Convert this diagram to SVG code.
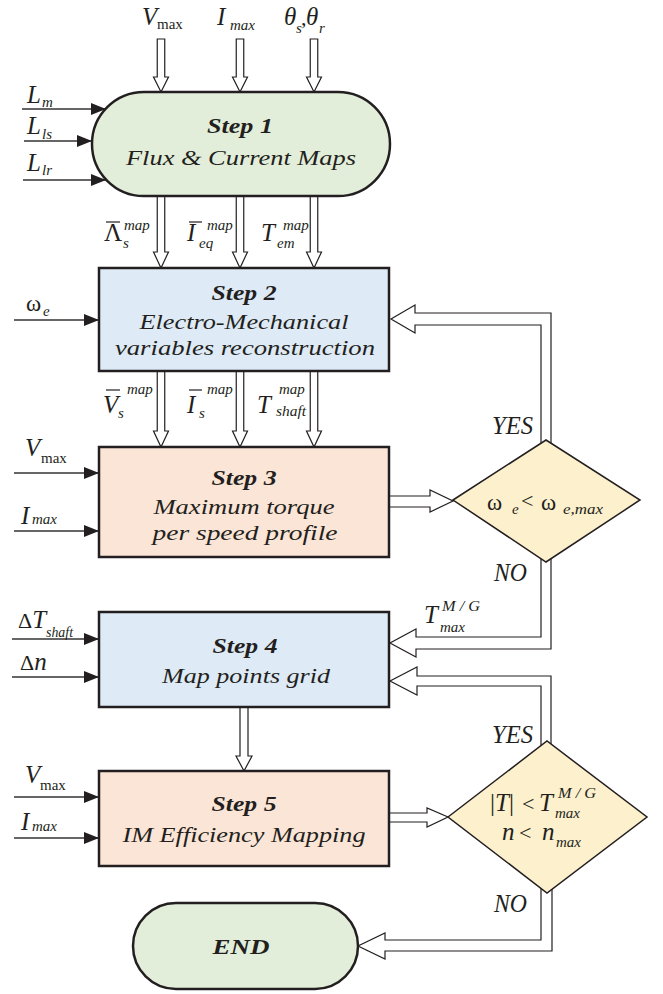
<svg xmlns="http://www.w3.org/2000/svg" width="663" height="994" viewBox="0 0 663 994">
<style>
text{font-family:'Liberation Serif','Times New Roman',serif;fill:#231f20}
.it{font-style:italic}
.bi{font-style:italic;font-weight:bold;font-size:21px}
.t{font-style:italic;font-size:22px}
.big{font-style:italic;font-size:25px}
.sub{font-style:italic;font-size:15px}
.up{font-size:15px}
.node{stroke:#231f20;stroke-width:2.5}
.dia{fill:#fcf0cd;stroke:#231f20;stroke-width:1.5}
.hol{fill:#ffffff;stroke:#231f20;stroke-width:1.2;stroke-linejoin:miter}
.inp{stroke:#333333;stroke-width:1.4;fill:none}
.bar{stroke:#231f20;stroke-width:1.2}
</style>
<defs>
<marker id="ah" markerUnits="userSpaceOnUse" markerWidth="15" markerHeight="12" refX="15" refY="6" orient="auto"><path d="M0,0 L15,6 L0,12 z" fill="#231f20"/></marker>
</defs>

<g id="connectors">
<!-- top inputs to step 1 -->
<polygon class="hol" points="157.25,39 164.75,39 164.75,77 168.5,77 161,92 153.5,77 157.25,77"/>
<polygon class="hol" points="236.25,39 243.75,39 243.75,77 247.5,77 240,92 232.5,77 236.25,77"/>
<polygon class="hol" points="310.25,39 317.75,39 317.75,77 321.5,77 314,92 306.5,77 310.25,77"/>
<!-- step1 -> step2 -->
<polygon class="hol" points="157.25,194 164.75,194 164.75,252 168.5,252 161,268 153.5,252 157.25,252"/>
<polygon class="hol" points="236.25,194 243.75,194 243.75,252 247.5,252 240,268 232.5,252 236.25,252"/>
<polygon class="hol" points="310.25,194 317.75,194 317.75,252 321.5,252 314,268 306.5,252 310.25,252"/>
<!-- step2 -> step3 -->
<polygon class="hol" points="157.25,369 164.75,369 164.75,431 168.5,431 161,447 153.5,431 157.25,431"/>
<polygon class="hol" points="236.25,369 243.75,369 243.75,431 247.5,431 240,447 232.5,431 236.25,431"/>
<polygon class="hol" points="310.25,369 317.75,369 317.75,431 321.5,431 314,447 306.5,431 310.25,431"/>
<!-- step4 -> step5 -->
<polygon class="hol" points="240,705 248,705 248,756 252,756 244,771 236,756 240,756"/>
<!-- step3 -> diamond1 -->
<polygon class="hol" points="387,496 430,496 430,490 453,501 430,512 430,507 387,507"/>
<!-- step5 -> diamond2 -->
<polygon class="hol" points="387,813 427,813 427,808 448,817 427,827 427,822 387,822"/>
<!-- diamond1 YES -> step2 -->
<polygon class="hol" points="541,452 541,325 415,325 415,333 391,319 415,305 415,313 551,313 551,452"/>
<!-- diamond1 NO -> step4 -->
<polygon class="hol" points="541,552 541,637 416,637 416,629 390,643 416,657 416,649 551,649 551,552"/>
<!-- diamond2 YES -> step4 -->
<polygon class="hol" points="541,752 541,686 417,686 417,695 390,681 417,667 417,676 551,676 551,752"/>
<!-- diamond2 NO -> END -->
<polygon class="hol" points="541,883 541,940 385,940 385,933 358,946 385,959 385,951 552,951 552,883"/>
<!-- thin inputs -->
<line class="inp" x1="22" y1="109" x2="106" y2="109" marker-end="url(#ah)"/>
<line class="inp" x1="24" y1="141" x2="92" y2="141" marker-end="url(#ah)"/>
<line class="inp" x1="23" y1="180" x2="106" y2="180" marker-end="url(#ah)"/>
<line class="inp" x1="14" y1="320" x2="99" y2="320" marker-end="url(#ah)"/>
<line class="inp" x1="14" y1="473" x2="99" y2="473" marker-end="url(#ah)"/>
<line class="inp" x1="14" y1="531" x2="99" y2="531" marker-end="url(#ah)"/>
<line class="inp" x1="12" y1="639" x2="99" y2="639" marker-end="url(#ah)"/>
<line class="inp" x1="12" y1="677" x2="99" y2="677" marker-end="url(#ah)"/>
<line class="inp" x1="14" y1="797" x2="99" y2="797" marker-end="url(#ah)"/>
<line class="inp" x1="14" y1="838" x2="99" y2="838" marker-end="url(#ah)"/>
</g>

<g id="step1">
<rect class="node" x="92" y="92" width="298" height="104" rx="52" ry="52" fill="#e2eed9" stroke-width="2.2"/>
<text class="bi" x="240" y="133" text-anchor="middle" textLength="66" lengthAdjust="spacingAndGlyphs">Step 1</text>
<text class="t" x="241" y="165" text-anchor="middle" textLength="230" lengthAdjust="spacingAndGlyphs">Flux &amp; Current Maps</text>
</g>

<g id="step2">
<rect class="node" x="99" y="268" width="290" height="103" fill="#deeaf5"/>
<text class="bi" x="244" y="300" text-anchor="middle" textLength="65" lengthAdjust="spacingAndGlyphs">Step 2</text>
<text class="t" x="244" y="329" text-anchor="middle" textLength="209" lengthAdjust="spacingAndGlyphs">Electro-Mechanical</text>
<text class="t" x="245" y="355" text-anchor="middle" textLength="260" lengthAdjust="spacingAndGlyphs">variables reconstruction</text>
</g>

<g id="step3">
<rect class="node" x="99" y="447" width="290" height="110" fill="#fbe5d6"/>
<text class="bi" x="244" y="485" text-anchor="middle" textLength="65" lengthAdjust="spacingAndGlyphs">Step 3</text>
<text class="t" x="244" y="514" text-anchor="middle" textLength="181" lengthAdjust="spacingAndGlyphs">Maximum torque</text>
<text class="t" x="245" y="540" text-anchor="middle" textLength="185" lengthAdjust="spacingAndGlyphs">per speed profile</text>
</g>

<g id="decision1">
<polygon class="dia" points="453,500 546,440 640,500 546,562"/>
<text x="487" y="510" font-size="23">ω</text>
<text class="sub" x="512" y="514">e</text>
<text x="521" y="508" font-size="22">&lt;</text>
<text x="541" y="510" font-size="23">ω</text>
<text class="sub" x="563" y="514" textLength="40" lengthAdjust="spacingAndGlyphs">e,max</text>
</g>

<g id="step4">
<rect class="node" x="99" y="612" width="290" height="95" fill="#deeaf5"/>
<text class="bi" x="245" y="653" text-anchor="middle" textLength="65" lengthAdjust="spacingAndGlyphs">Step 4</text>
<text class="t" x="246" y="683" text-anchor="middle" textLength="168" lengthAdjust="spacingAndGlyphs">Map points grid</text>
</g>

<g id="step5">
<rect class="node" x="99" y="771" width="290" height="95" fill="#fbe5d6"/>
<text class="bi" x="244" y="811" text-anchor="middle" textLength="65" lengthAdjust="spacingAndGlyphs">Step 5</text>
<text class="t" x="244" y="842" text-anchor="middle" textLength="243" lengthAdjust="spacingAndGlyphs">IM Efficiency Mapping</text>
</g>

<g id="decision2">
<polygon class="dia" points="448,817 547,741 647,817 547,893"/>
<text x="490" y="811" font-size="25">|<tspan class="it">T</tspan>|</text>
<text x="522" y="811" font-size="22">&lt;</text>
<text class="big" x="539" y="811">T</text>
<text class="sub" x="558" y="798" textLength="38" lengthAdjust="spacingAndGlyphs">M / G</text>
<text class="sub" x="555" y="818" font-size="16">max</text>
<text class="big" x="502" y="840">n</text>
<text x="519" y="840" font-size="22">&lt;</text>
<text class="big" x="542" y="840">n</text>
<text class="sub" x="556" y="847" font-size="16">max</text>
</g>

<g id="end">
<rect class="node" x="133" y="903" width="225" height="86" rx="43" ry="43" fill="#e2eed9" stroke-width="2.2"/>
<text class="bi" x="241" y="954" text-anchor="middle" textLength="57" lengthAdjust="spacingAndGlyphs" font-size="22">END</text>
</g>

<g id="labels">
<!-- top inputs -->
<text class="big" x="142" y="25">V</text>
<text class="up" x="157" y="29" font-size="14">max</text>
<text class="big" x="217" y="25">I</text>
<text class="sub" x="230" y="30" font-size="16">max</text>
<text class="big" x="284" y="25">θ</text>
<text class="sub" x="296" y="33">s</text>
<text x="301" y="25" font-size="22">,</text>
<text class="big" x="306" y="25">θ</text>
<text class="sub" x="319" y="33">r</text>
<!-- L inputs -->
<text class="big" x="27" y="103">L</text>
<text class="sub" x="42" y="107">m</text>
<text class="big" x="27" y="134">L</text>
<text class="sub" x="42" y="139">ls</text>
<text class="big" x="27" y="171">L</text>
<text class="sub" x="42" y="175">lr</text>
<!-- step1 outputs -->
<line class="bar" x1="106" y1="222" x2="120" y2="222"/>
<text x="104" y="241" font-size="25">Λ</text>
<text class="sub" x="124" y="230">map</text>
<text class="sub" x="123" y="248">s</text>
<line class="bar" x1="189" y1="222" x2="202" y2="222"/>
<text class="big" x="187" y="241">I</text>
<text class="sub" x="207" y="230">map</text>
<text class="sub" x="199" y="248">eq</text>
<text class="big" x="261" y="241">T</text>
<text class="sub" x="283" y="230">map</text>
<text class="sub" x="277" y="248">em</text>
<!-- omega_e -->
<text x="26" y="311" font-size="23">ω</text>
<text class="sub" x="43" y="316">e</text>
<!-- step2 outputs -->
<line class="bar" x1="106" y1="390" x2="120" y2="390"/>
<text class="big" x="103" y="413">V</text>
<text class="sub" x="127" y="394">map</text>
<text class="sub" x="118" y="418">s</text>
<line class="bar" x1="189" y1="390" x2="202" y2="390"/>
<text class="big" x="187" y="413">I</text>
<text class="sub" x="207" y="394">map</text>
<text class="sub" x="199" y="418">s</text>
<text class="big" x="257" y="413">T</text>
<text class="sub" x="279" y="394">map</text>
<text class="sub" x="276" y="416" font-size="13" textLength="30" lengthAdjust="spacingAndGlyphs">shaft</text>
<!-- step3 inputs -->
<text class="big" x="25" y="456">V</text>
<text class="up" x="41" y="463">max</text>
<text class="big" x="21" y="524">I</text>
<text class="sub" x="32" y="524" font-size="16">max</text>
<!-- YES / NO diamond1 -->
<text class="big" x="492" y="434" textLength="41" lengthAdjust="spacingAndGlyphs">YES</text>
<text class="big" x="494" y="581" textLength="33" lengthAdjust="spacingAndGlyphs">NO</text>
<!-- T max M/G near step4 -->
<text class="big" x="424" y="623">T</text>
<text class="sub" x="442" y="611" textLength="38" lengthAdjust="spacingAndGlyphs">M / G</text>
<text class="sub" x="440" y="632">max</text>
<!-- step4 inputs -->
<text x="18" y="628" font-size="22">Δ<tspan class="it" font-size="25">T</tspan></text>
<text class="sub" x="46" y="637" font-size="13" textLength="27" lengthAdjust="spacingAndGlyphs">shaft</text>
<text x="20" y="670" font-size="22">Δ<tspan class="it" font-size="25">n</tspan></text>
<!-- YES / NO diamond2 -->
<text class="big" x="492" y="743" textLength="41" lengthAdjust="spacingAndGlyphs">YES</text>
<text class="big" x="494" y="912" textLength="33" lengthAdjust="spacingAndGlyphs">NO</text>
<!-- step5 inputs -->
<text class="big" x="25" y="783">V</text>
<text class="up" x="40" y="790">max</text>
<text class="big" x="21" y="830">I</text>
<text class="sub" x="32" y="831" font-size="16">max</text>
</g>
</svg>
